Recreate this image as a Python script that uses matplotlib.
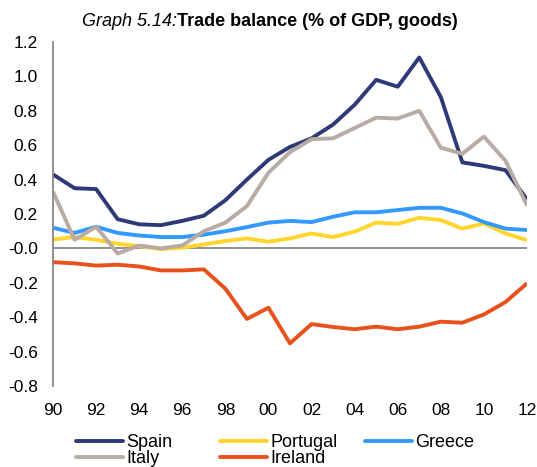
import numpy as np
import matplotlib.pyplot as plt

plt.rcParams['font.family'] = ['Liberation Sans', 'DejaVu Sans']

years = list(range(1990, 2013))
year_labels = ['90', '92', '94', '96', '98', '00', '02', '04', '06', '08', '10', '12']

spain = [0.43, 0.35, 0.345, 0.17, 0.14, 0.135, 0.16, 0.19, 0.28, 0.40, 0.515, 0.59,
         0.64, 0.72, 0.835, 0.98, 0.94, 1.11, 0.88, 0.50, 0.48, 0.455, 0.285]
portugal = [0.052, 0.066, 0.05, 0.027, 0.013, -0.004, 0.004, 0.023, 0.043, 0.058, 0.039, 0.058,
            0.087, 0.066, 0.097, 0.15, 0.143, 0.178, 0.165, 0.115, 0.145, 0.087, 0.048]
greece = [0.12, 0.09, 0.126, 0.09, 0.075, 0.066, 0.066, 0.08, 0.10, 0.124, 0.15, 0.16,
          0.153, 0.184, 0.21, 0.21, 0.223, 0.236, 0.236, 0.203, 0.153, 0.115, 0.107]
italy = [0.33, 0.05, 0.126, -0.03, 0.017, 0.0, 0.017, 0.10, 0.15, 0.246, 0.44, 0.56,
         0.635, 0.64, 0.70, 0.76, 0.755, 0.80, 0.585, 0.55, 0.65, 0.51, 0.25]
ireland = [-0.08, -0.087, -0.10, -0.095, -0.105, -0.128, -0.128, -0.122, -0.234, -0.41, -0.345, -0.552,
           -0.44, -0.457, -0.47, -0.455, -0.47, -0.455, -0.426, -0.432, -0.384, -0.312, -0.203]

series = [
    ('Spain', spain, '#2e3a78'),
    ('Portugal', portugal, '#ffd52e'),
    ('Greece', greece, '#3399ff'),
    ('Italy', italy, '#b8aba3'),
    ('Ireland', ireland, '#e8521a'),
]

fig = plt.figure(figsize=(5.37, 4.67), dpi=100)
ax = fig.add_axes([53 / 537, 1 - 386 / 467, 474 / 537, 344 / 467])

lines = {}
for name, vals, col in series:
    ln, = ax.plot(years, vals, color=col, lw=2.8, solid_capstyle='butt', label=name)
    lines[name] = ln

ax.axhline(0, color='#878787', lw=1.3, zorder=1)
ax.set_xlim(1990, 2012)
ax.set_ylim(-0.8, 1.2)
ax.set_yticks(np.arange(-0.8, 1.21, 0.2))
ax.set_yticklabels(['%.1f' % v for v in np.arange(-0.8, 1.21, 0.2)])
ax.set_xticks(years[::2])
ax.set_xticklabels(year_labels)
for s in ['top', 'right', 'bottom']:
    ax.spines[s].set_visible(False)
ax.spines['left'].set_color('#878787')
ax.spines['left'].set_linewidth(1.3)
ax.tick_params(length=0, labelsize=12.5, colors='black')
ax.tick_params(axis='y', pad=11)
ax.tick_params(axis='x', pad=12)

# one legend per column so the columns sit at fixed spacing
columns = [['Spain', 'Italy'], ['Portugal', 'Ireland'], ['Greece']]
col_x = [76, 220, 365]
for names, x0 in zip(columns, col_x):
    leg = fig.legend([lines[n] for n in names], names, loc='upper left',
                     bbox_to_anchor=(x0 / 537, 1 - 434 / 467), frameon=False, fontsize=13,
                     handlelength=2.6, handletextpad=0.2, labelspacing=-0.05,
                     borderpad=0, borderaxespad=0)
    for h in leg.legend_handles:
        h.set_solid_capstyle('round')

t1 = fig.text(82 / 537, 1 - 26 / 467, 'Graph 5.14:', style='italic', fontsize=13,
              ha='left', va='baseline')
ax.annotate('Trade balance (% of GDP, goods)', xy=(1, 0), xycoords=t1,
            va='bottom', ha='left', fontsize=13, fontweight='bold')

fig.savefig('out.png', dpi=100)
